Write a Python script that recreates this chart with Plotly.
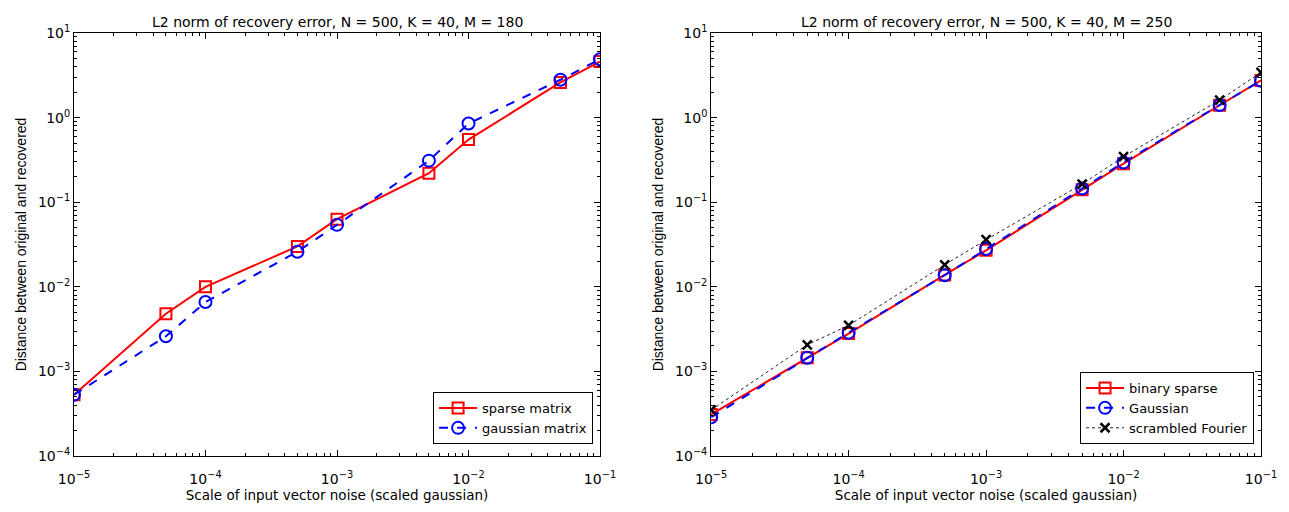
import plotly.graph_objects as go

noise_scale = [1e-5, 5e-5, 1e-4, 5e-4, 1e-3, 5e-3, 1e-2, 5e-2, 1e-1]

# Left panel (M = 180)
sparse_matrix = [5.3e-4, 4.8e-3, 1.0e-2, 3.0e-2, 6.3e-2, 0.22, 0.55, 2.6, 4.6]
gaussian_matrix = [5.3e-4, 2.6e-3, 6.6e-3, 2.6e-2, 5.4e-2, 0.31, 0.85, 2.8, 4.9]

# Right panel (M = 250)
binary_sparse = [3.1e-4, 1.45e-3, 2.8e-3, 1.38e-2, 2.7e-2, 0.14, 0.285, 1.4, 2.75]
gaussian_250 = [2.87e-4, 1.45e-3, 2.87e-3, 1.37e-2, 2.8e-2, 0.145, 0.295, 1.41, 2.73]
scrambled_fourier = [3.5e-4, 2.06e-3, 3.5e-3, 1.82e-2, 3.6e-2, 0.164, 0.345, 1.61, 3.42]

x_tickvals = [1e-5, 1e-4, 1e-3, 1e-2, 1e-1]
x_ticktext = ["10<sup>\u22125</sup>", "10<sup>\u22124</sup>", "10<sup>\u22123</sup>",
              "10<sup>\u22122</sup>", "10<sup>\u22121</sup>"]
y_tickvals = [1e-4, 1e-3, 1e-2, 1e-1, 1e0, 1e1]
y_ticktext = ["10<sup>\u22124</sup>", "10<sup>\u22123</sup>", "10<sup>\u22122</sup>",
              "10<sup>\u22121</sup>", "10<sup>0</sup>", "10<sup>1</sup>"]

titles = ["L2 norm of recovery error, N = 500, K = 40, M = 180",
          "L2 norm of recovery error, N = 500, K = 40, M = 250"]
x_title = "Scale of input vector noise (scaled gaussian)"
y_title = "Distance between original and recovered"

WIDE = "DejaVu Sans, Verdana, sans-serif"
NARROW = "Liberation Sans, Arial, Helvetica, sans-serif"

def minor_vals(lo, hi):
    vals = []
    for e in range(lo, hi):
        for m in range(2, 10):
            vals.append(m * 10.0 ** e)
    return vals

W, H = 1289, 512
ML, MR, MT, MB = 57, 36, 25, 64
pw = W - ML - MR
ph = H - MT - MB

def px_x(p):
    return (p - ML) / pw

left_dom = [0, px_x(587)]
right_dom = [px_x(699), 1]

fig = go.Figure()

red = "#ff0000"
blue = "#0000ff"

fig.add_trace(go.Scatter(x=noise_scale, y=sparse_matrix, name="sparse matrix",
                         mode="lines+markers", xaxis="x", yaxis="y", legend="legend",
                         line=dict(color=red, width=2),
                         marker=dict(symbol="square-open", size=11, color=red, line=dict(width=2))))
fig.add_trace(go.Scatter(x=noise_scale, y=gaussian_matrix, name="gaussian matrix",
                         mode="lines+markers", xaxis="x", yaxis="y", legend="legend",
                         line=dict(color=blue, width=2, dash="dash"),
                         marker=dict(symbol="circle-open", size=12, color=blue, line=dict(width=2))))

fig.add_trace(go.Scatter(x=noise_scale, y=binary_sparse, name="binary sparse",
                         mode="lines+markers", xaxis="x2", yaxis="y2", legend="legend2",
                         line=dict(color=red, width=2),
                         marker=dict(symbol="square-open", size=11, color=red, line=dict(width=2))))
fig.add_trace(go.Scatter(x=noise_scale, y=gaussian_250, name="Gaussian",
                         mode="lines+markers", xaxis="x2", yaxis="y2", legend="legend2",
                         line=dict(color=blue, width=2, dash="dash"),
                         marker=dict(symbol="circle-open", size=12, color=blue, line=dict(width=2))))
fig.add_trace(go.Scatter(x=noise_scale, y=scrambled_fourier, name="scrambled Fourier",
                         mode="lines+markers", xaxis="x2", yaxis="y2", legend="legend2",
                         line=dict(color="#222222", width=1, dash="dot"),
                         marker=dict(symbol="x-thin", size=9, color="#000000",
                                     line=dict(width=2.5, color="#000000"))))

def xaxis(dom, anchor):
    return dict(type="log", domain=dom, anchor=anchor, range=[-5, -1],
                tickmode="array", tickvals=x_tickvals, ticktext=x_ticktext,
                showgrid=False, zeroline=False,
                showline=True, linecolor="black", linewidth=1, mirror="allticks",
                ticks="inside", ticklen=6, tickcolor="black",
                minor=dict(ticks="inside", ticklen=3, tickcolor="black", showgrid=False,
                           tickmode="array", tickvals=minor_vals(-5, -1)),
                ticklabelstandoff=10, ticklabeloverflow="allow",
                tickfont=dict(family=WIDE, size=14, color="black"),
                title=dict(text=x_title, font=dict(family=WIDE, size=13.5, color="black"), standoff=0))

def yaxis(anchor):
    return dict(type="log", domain=[0, 1], anchor=anchor, range=[-4, 1],
                tickmode="array", tickvals=y_tickvals, ticktext=y_ticktext,
                showgrid=False, zeroline=False,
                showline=True, linecolor="black", linewidth=1, mirror="allticks",
                ticks="inside", ticklen=6, tickcolor="black",
                minor=dict(ticks="inside", ticklen=3, tickcolor="black", showgrid=False,
                           tickmode="array", tickvals=minor_vals(-4, 1)),
                ticklabeloverflow="allow",
                tickfont=dict(family=WIDE, size=14, color="black"),
                title=dict(text=y_title, font=dict(family=NARROW, size=14, color="black"), standoff=8))

legend_common = dict(bgcolor="white", bordercolor="black", borderwidth=1,
                     font=dict(family=WIDE, size=13, color="black"),
                     xanchor="right", yanchor="bottom", tracegroupgap=0, itemwidth=38)

fig.update_layout(
    width=W, height=H,
    margin=dict(l=ML, r=MR, t=MT, b=MB),
    paper_bgcolor="white", plot_bgcolor="white",
    font=dict(family=WIDE, size=13, color="black"),
    xaxis=xaxis(left_dom, "y"),
    yaxis=yaxis("x"),
    xaxis2=xaxis(right_dom, "y2"),
    yaxis2=yaxis("x2"),
    legend=dict(x=left_dom[1] - 7 / pw, y=12 / ph, **legend_common),
    legend2=dict(x=right_dom[1] - 7 / pw, y=12 / ph, **legend_common),
    showlegend=True,
)

for dom, t in zip([left_dom, right_dom], titles):
    fig.add_annotation(text=t, x=(dom[0] + dom[1]) / 2, y=1, xref="paper", yref="paper",
                       xanchor="center", yanchor="bottom", yshift=1, showarrow=False,
                       font=dict(family=WIDE, size=14, color="black"))

fig.write_html("out.html")
